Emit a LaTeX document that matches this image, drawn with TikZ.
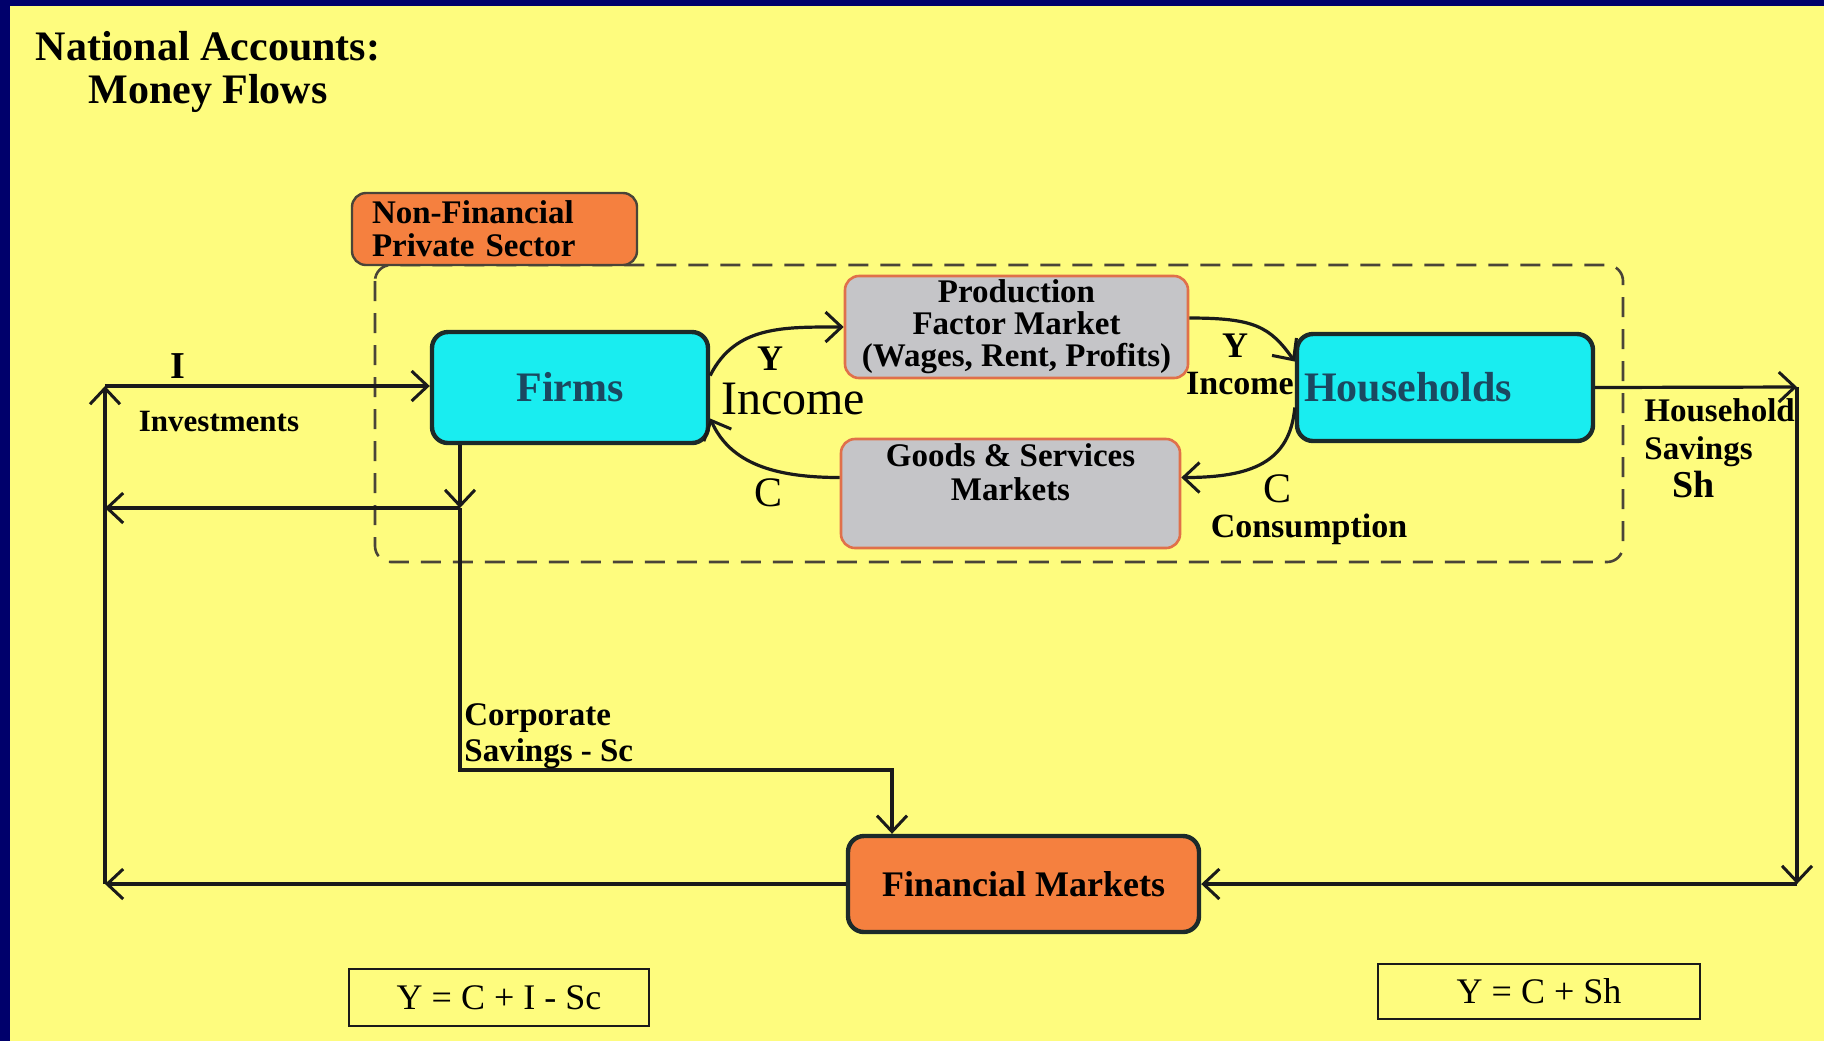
\documentclass[tikz,border=0pt]{standalone}
\usepackage{fontspec}
\setmainfont{Liberation Serif}
\usetikzlibrary{arrows.meta}

\definecolor{paper}{HTML}{FEFC7E}
\definecolor{navyedge}{HTML}{00006B}
\definecolor{ink}{HTML}{1A1A1A}
\definecolor{agentfill}{HTML}{19EDF0}
\definecolor{agenttext}{HTML}{1B4860}
\definecolor{agentline}{HTML}{1C2A2A}
\definecolor{orangefill}{HTML}{F5803F}
\definecolor{marketfill}{HTML}{C5C5C8}
\definecolor{marketline}{HTML}{E0704A}
\definecolor{sectorline}{HTML}{4A4438}

\tikzset{
  flow/.style={draw=ink, line width=1.6pt, -{Straight Barb[length=8pt,width=15pt,line width=1.5pt]}},
  link/.style={draw=ink, line width=1.6pt},
  agent/.style={draw=agentline, line width=2.2pt, fill=agentfill, rounded corners=8pt,
    inner sep=0pt, text=agenttext, font=\bfseries\fontsize{21}{24}\selectfont},
  market/.style={draw=marketline, line width=1.3pt, fill=marketfill, rounded corners=7pt,
    inner sep=0pt, align=center},
  lbl/.style={font=\bfseries\fontsize{16}{18}\selectfont, inner sep=0pt},
  eqbox/.style={draw=ink, line width=1pt, inner sep=0pt, font=\fontsize{18}{20}\selectfont},
}

\begin{document}
\begin{tikzpicture}[x=0.5pt, y=-0.5pt]

% page
\useasboundingbox (0,0) rectangle (1824,1041);
\fill[navyedge] (0,0) rectangle (1824,1041);
\fill[paper] (10,6) rectangle (1824,1041);

% title
\node[font=\bfseries\fontsize{21}{21.5}\selectfont, align=center, inner sep=0pt] (title) at (208,72)
  {National Accounts:\\Money Flows};

% sector frame
\draw[sectorline, line width=1.3pt, dash pattern=on 10pt off 6pt, rounded corners=8pt]
  (375,265) rectangle (1623,562);
\node[draw=sectorline, line width=1.2pt, fill=orangefill, rounded corners=7pt, inner sep=0pt,
  inner xsep=10pt, minimum width=142.5pt, minimum height=36pt, text width=122.5pt, align=left,
  font=\bfseries\fontsize{16.5}{16.5}\selectfont] (sector) at (494.5,229)
  {Non-Financial\\Private Sector};

% agents and markets
\node[agent, minimum width=138pt, minimum height=55.5pt] (firms) at (570,387.5) {Firms};
\node[agent, minimum width=148pt, minimum height=53.5pt, inner xsep=3.5pt, text width=141pt,
  align=left] (house) at (1445,387.5) {Households};
\node[market, minimum width=171.5pt, minimum height=51pt,
  font=\bfseries\fontsize{16.5}{16}\selectfont] (prod) at (1016.5,327)
  {Production\\Factor Market\\(Wages, Rent, Profits)};
\node[market, minimum width=169.5pt, minimum height=54.5pt,
  font=\bfseries\fontsize{16.5}{17}\selectfont] (goods) at (1010.5,493.5)
  {Goods \& Services\\Markets\\[4pt]};
\node[draw=agentline, line width=2.2pt, fill=orangefill, rounded corners=8pt, inner sep=0pt,
  minimum width=175.5pt, minimum height=48pt,
  font=\bfseries\fontsize{18}{20}\selectfont] (fin) at (1023.5,884) {Financial Markets};

% identities
\node[eqbox, minimum width=150pt, minimum height=28.5pt] (eqfirms) at (499,997.5) {Y = C + I - Sc};
\node[eqbox, minimum width=161pt, minimum height=27.5pt] (eqhouse) at (1539,991.5) {Y = C + Sh};

% circular flow inside the sector
\draw[flow] ([yshift=6pt]firms.east) .. controls +(25,-50) and +(-60,0) .. (prod.west);
\draw[flow] ([yshift=4.5pt]prod.east) .. controls +(65,0) and +(-25,-35) .. ([yshift=13pt]house.west);
\draw[flow] ([yshift=-10pt]house.west) .. controls +(-5,55) and +(70,0) .. ([yshift=8pt]goods.east);
\draw[flow] ([yshift=8pt]goods.west) .. controls +(-65,0) and +(20,45) .. ([yshift=-15.5pt]firms.east);

\node[lbl, font=\bfseries\fontsize{18}{18}\selectfont] (yleft) at (770,359) {Y};
\node[inner sep=0pt, font=\fontsize{24}{24}\selectfont] (incleft) at (793,399) {Income};
\node[lbl, font=\bfseries\fontsize{18}{18}\selectfont] (yright) at (1235,346) {Y};
\node[lbl, font=\bfseries\fontsize{17}{18}\selectfont] (incright) at (1240,384) {Income};
\node[inner sep=0pt, font=\fontsize{21}{21}\selectfont] (cleft) at (768,493) {C};
\node[inner sep=0pt, font=\fontsize{21}{21}\selectfont] (cright) at (1277,489) {C};
\node[lbl, font=\bfseries\fontsize{17}{18}\selectfont] (consum) at (1309,529) {Consumption};

% investment loop
\coordinate (bl) at (105,884);
\coordinate (tl) at (105,386);
\coordinate (fd) at (460,508);
\coordinate (cs) at (460,770);
\coordinate (tr) at (1797,387);
\coordinate (br) at (1797,884);

\draw[flow] (fin.west) -- (bl);
\draw[flow] (bl) -- (tl);
\draw[flow] (tl) -- (tl -| firms.west);
\draw[flow] (firms.south west -| fd) -- (fd);
\draw[flow] (fd) -- (fd -| bl);
\draw[flow] (fd) -- (cs) -- (892,770) -- (fin.north -| 892,770);

\node[lbl, font=\bfseries\fontsize{19}{19}\selectfont] (ilbl) at (178,366) {I};
\node[lbl, font=\bfseries\fontsize{15.5}{18}\selectfont] (invlbl) at (219,421) {Investments};
\node[lbl, font=\bfseries\fontsize{16.5}{18}\selectfont, align=left, anchor=west] (corplbl) at (464,736)
  {Corporate\\Savings - Sc};

% household savings
\draw[flow] (house.east) -- (tr);
\draw[flow] (tr) -- (br);
\draw[flow] (br) -- (fin.east);
\node[lbl, font=\bfseries\fontsize{16.5}{19}\selectfont, align=left, anchor=north west] (savlbl) at (1644,398)
  {Household\\Savings\\\hspace{14pt}{\fontsize{19}{19}\selectfont Sh}};

\end{tikzpicture}
\end{document}
